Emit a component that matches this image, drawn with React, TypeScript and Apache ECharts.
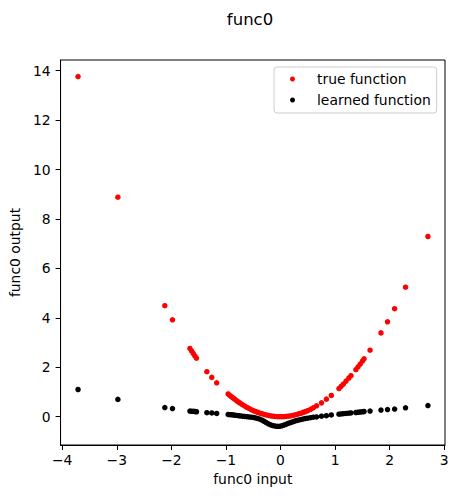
import React, { useEffect, useRef } from "react";
import * as echarts from "echarts";

const inputs = [
  -3.71, -2.98, -2.12, -1.98, -1.66, -1.63, -1.6, -1.57, -1.54, -1.35, -1.26, -1.17,
  -0.96, -0.93, -0.9, -0.87, -0.84, -0.8, -0.77, -0.74, -0.7, -0.66, -0.62, -0.58,
  -0.54, -0.5, -0.46, -0.42, -0.38, -0.34, -0.3, -0.26, -0.22, -0.18, -0.14, -0.1,
  -0.06, -0.02, 0.02, 0.06, 0.1, 0.14, 0.18, 0.22, 0.26, 0.3, 0.34, 0.38, 0.42, 0.46,
  0.5, 0.55, 0.6, 0.66, 0.75, 0.84, 0.93, 1.07, 1.11, 1.15, 1.2, 1.25, 1.29, 1.38,
  1.42, 1.46, 1.5, 1.53, 1.64, 1.84, 1.96, 2.09, 2.29, 2.7,
];

const trueOutputs = [
  13.76, 8.88, 4.49, 3.92, 2.76, 2.66, 2.56, 2.46, 2.37, 1.82, 1.59, 1.37,
  0.92, 0.86, 0.81, 0.76, 0.71, 0.64, 0.59, 0.55, 0.49, 0.44, 0.38, 0.34,
  0.29, 0.25, 0.21, 0.18, 0.14, 0.12, 0.09, 0.07, 0.05, 0.03, 0.02, 0.01,
  0.0, 0.0, 0.0, 0.0, 0.01, 0.02, 0.03, 0.05, 0.07, 0.09, 0.12, 0.14, 0.18, 0.21,
  0.25, 0.3, 0.36, 0.44, 0.56, 0.71, 0.86, 1.14, 1.23, 1.32, 1.44, 1.56, 1.66, 1.9,
  2.02, 2.13, 2.25, 2.34, 2.69, 3.39, 3.84, 4.37, 5.24, 7.29,
];

const learnedOutputs = [
  1.1, 0.7, 0.37, 0.33, 0.23, 0.22, 0.22, 0.21, 0.2, 0.16, 0.15, 0.13,
  0.09, 0.08, 0.08, 0.07, 0.06, 0.05, 0.04, 0.03, 0.02, 0.01, 0.0, -0.01,
  -0.02, -0.03, -0.05, -0.07, -0.1, -0.14, -0.19, -0.24, -0.29, -0.33, -0.36, -0.38,
  -0.39, -0.39, -0.37, -0.34, -0.31, -0.27, -0.24, -0.21, -0.18, -0.15, -0.13, -0.11, -0.09, -0.07,
  -0.06, -0.04, -0.02, -0.01, 0.02, 0.04, 0.07, 0.1, 0.11, 0.12, 0.13, 0.14, 0.15, 0.17,
  0.18, 0.19, 0.2, 0.21, 0.23, 0.27, 0.29, 0.31, 0.36, 0.45,
];

const xTicks = [-4, -3, -2, -1, 0, 1, 2, 3];
const yTicks = [0, 2, 4, 6, 8, 10, 12, 14];

const FONT = "DejaVu Sans";
const fmt = (v: number) => String(v).replace("-", "\u2212");

export default function App() {
  const ref = useRef<HTMLDivElement>(null);
  useEffect(() => {
    if (!ref.current) return;
    const chart = echarts.init(ref.current, undefined, { renderer: "svg" });
    chart.setOption({
      animation: false,
      backgroundColor: "#ffffff",
      title: {
        text: "func0",
        left: 245,
        top: 6,
        textAlign: "center",
        textStyle: { fontFamily: FONT, fontSize: 16.5, fontWeight: "normal", color: "#000" },
      },
      grid: {
        left: 57.5,
        right: 13,
        top: 60,
        bottom: 53,
        show: true,
        borderColor: "#000",
        borderWidth: 1,
        backgroundColor: "transparent",
      },
      legend: {
        orient: "vertical",
        left: 274,
        top: 67,
        padding: [5, 6, 6, 16],
        itemGap: 7,
        itemWidth: 5,
        itemHeight: 5,
        icon: "circle",
        backgroundColor: "rgba(255,255,255,0.8)",
        borderColor: "#cccccc",
        borderWidth: 1,
        borderRadius: 3,
        textStyle: {
          fontFamily: FONT,
          fontSize: 13.9,
          color: "#000",
          padding: [0, 0, 0, 17],
        },
        data: ["true function", "learned function"],
      },
      xAxis: {
        type: "value",
        min: -4.03,
        max: 3.013,
        name: "func0 input",
        nameLocation: "middle",
        nameGap: 27,
        nameTextStyle: { fontFamily: FONT, fontSize: 13.9, color: "#000" },
        axisLine: { show: true, onZero: false, lineStyle: { color: "#000", width: 1 } },
        axisTick: {
          show: true,
          length: 5,
          lineStyle: { color: "#000", width: 1 },
          customValues: xTicks,
        },
        axisLabel: {
          fontFamily: FONT,
          fontSize: 13.9,
          color: "#000",
          margin: 8,
          customValues: xTicks,
          formatter: fmt,
        },
        splitLine: { show: false },
      },
      yAxis: {
        type: "value",
        min: -1.145,
        max: 14.43,
        name: "func0 output",
        nameLocation: "middle",
        nameGap: 36,
        nameTextStyle: { fontFamily: FONT, fontSize: 13.9, color: "#000" },
        axisLine: { show: true, onZero: false, lineStyle: { color: "#000", width: 1 } },
        axisTick: {
          show: true,
          length: 5,
          lineStyle: { color: "#000", width: 1 },
          customValues: yTicks,
        },
        axisLabel: {
          fontFamily: FONT,
          fontSize: 13.9,
          color: "#000",
          margin: 10,
          customValues: yTicks,
          formatter: fmt,
        },
        splitLine: { show: false },
      },
      series: [
        {
          name: "true function",
          type: "scatter",
          symbol: "circle",
          symbolSize: 5.5,
          itemStyle: { color: "#ff0000", opacity: 1 },
          data: inputs.map((x, i) => [x, trueOutputs[i]]),
        },
        {
          name: "learned function",
          type: "scatter",
          symbol: "circle",
          symbolSize: 5.5,
          itemStyle: { color: "#000000", opacity: 1 },
          data: inputs.map((x, i) => [x, learnedOutputs[i]]),
        },
      ],
    });
    return () => chart.dispose();
  }, []);
  return (
    <div
      ref={ref}
      style={{ position: "fixed", left: 0, top: 0, width: 458, height: 498 }}
    />
  );
}
